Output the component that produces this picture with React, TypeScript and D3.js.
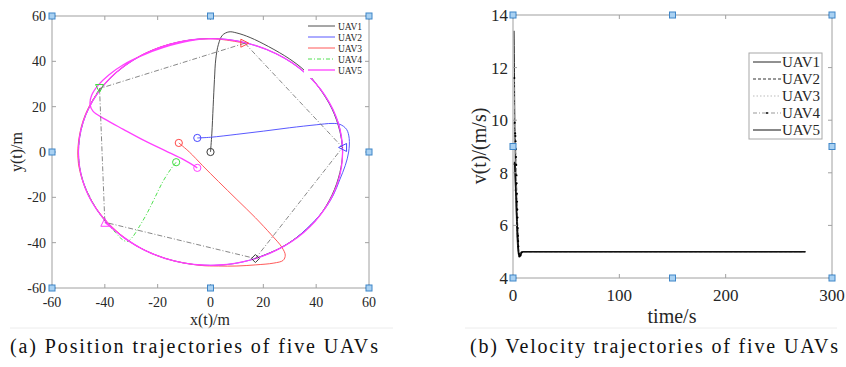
import * as d3 from 'd3';

// ---- (a) position trajectories, [x, y] in metres ----
const uav1Path: [number, number][] = [
  [0, 0], [0.5, 8], [1, 20], [1.5, 32], [2, 41], [3, 47.5], [4.5, 51.5], [7, 53], [10, 52.5],
  [15, 50.5], [22, 46.5], [30, 41], [36, 35.5], [41, 28.5], [46, 19], [49, 9], [50, 0],
  [49, -9], [46, -19], [41, -28.5], [35, -35.5], [27, -42], [17, -47],
];
const uav2Path: [number, number][] = [
  [-5, 6.2], [0, 6.5], [10, 7.8], [20, 9.2], [30, 10.7], [40, 12], [46, 12.6], [49, 12.2],
  [51.5, 10], [52.5, 6], [52.3, 0], [51, -6], [49, -12], [46.5, -19], [43, -25.5], [38, -32],
  [30, -40], [18, -46.6], [5, -49.8], [-10, -49], [-25, -43.3], [-37, -33.7], [-45, -21.7],
  [-49.5, -7], [-49.6, 6], [-46, 19.5], [-38, 32.5], [-26, 42.7], [-12, 48.5], [3, 50],
  [18, 46.6], [31, 39.2], [41.5, 27.9], [48.3, 13], [50, 2],
];
const uav3Path: [number, number][] = [
  [-12, 4], [-8, 0], [-3, -6], [3, -13], [10, -21], [17, -29], [23, -36.5], [27, -42],
  [28.3, -45.5], [27.5, -47.8], [24, -49], [17, -49.8], [10, -50.3], [3, -50.3], [-4, -50],
  [-17, -47], [-29, -40.7], [-39, -31], [-46, -19.5], [-50, -5], [-49.5, 8], [-46, 20],
  [-38.5, 32], [-28, 41.5], [-15, 47.7], [0, 50], [13, 48],
];
const uav4Path: [number, number][] = [
  [-13, -4.5], [-15, -7.5], [-18, -13], [-21, -20], [-24, -27], [-27, -33], [-29.5, -37.5],
  [-31.5, -39.5], [-33.5, -38.5], [-36, -35.5], [-39.5, -31], [-43, -25.5], [-46, -19],
  [-48.3, -13], [-50, 0], [-48.3, 13], [-45.3, 21.2], [-42, 28],
];
const uav5Path: [number, number][] = [
  [-5, -7], [-10, -3.5], [-17, 0.5], [-25, 5], [-33, 10], [-40, 14.5], [-44.5, 18], [-45.6, 21],
  [-45, 25], [-42.5, 29.5], [-38.5, 34], [-33, 38.5], [-26, 42.5], [-18, 46], [-8, 49], [0, 50],
  [13, 48.3], [25, 43.3], [35.4, 35.4], [43.3, 25], [48.3, 13], [50, 0], [48.3, -13],
  [43.3, -25], [35.4, -35.4], [25, -43.3], [13, -48.3], [0, -50], [-13, -48.3], [-25, -43.3],
  [-35.4, -35.4], [-43.3, -25], [-48.3, -13], [-50, 0], [-48.3, 13], [-43.3, 25],
  [-35.4, 35.4], [-25, 43.3], [-13, 48.3], [0, 50], [13, 48.3], [25, 43.3], [35.4, 35.4],
  [43.3, 25], [48.3, 13], [50, 0], [48.3, -13], [43.3, -25], [35.4, -35.4], [25, -43.3],
  [13, -48.3], [0, -50], [-13, -48.3], [-25, -43.3], [-33, -37.5], [-40, -31],
];
const formation: [number, number][] = [[13, 48], [50, 2], [17, -47], [-40, -31], [-42, 28], [13, 48]];

const posNames = ['UAV1', 'UAV2', 'UAV3', 'UAV4', 'UAV5'];
const posColors = ['#3a3a3a', '#4646ff', '#ff4646', '#3cdc3c', '#ff40ff'];
const posPaths = [uav1Path, uav2Path, uav3Path, uav4Path, uav5Path];
const endMarkers = ['diamond', 'left', 'right', 'down', 'up'];
const posTicks = [-60, -40, -20, 0, 20, 40, 60];

// ---- (b) velocity, [t (s), v (m/s)] ----
const vel1: [number, number][] = [
  [1, 13.4], [1.3, 12.2], [1.6, 10.6], [2, 8.9], [2.5, 7.6], [3, 6.6], [3.5, 5.9], [4, 5.4],
  [5, 4.95], [6, 4.82], [7, 4.86], [8, 4.96], [9, 5], [275, 5],
];
const vel2: [number, number][] = [
  [1, 9.9], [2, 9.4], [3, 8], [4, 6.5], [5, 5.3], [6, 4.85], [7, 4.86], [8, 4.97], [10, 5], [275, 5],
];
const vel3: [number, number][] = [
  [1, 7.3], [2, 7.4], [3, 6.5], [4, 5.6], [5, 5.0], [6, 4.85], [8, 4.98], [10, 5], [275, 5],
];
const vel4: [number, number][] = [
  [1.2, 11.6], [1.6, 9.9], [2, 9.5], [2.2, 9.4], [2.4, 9.2], [2.6, 8.9], [2.8, 8.6], [3, 8.3],
  [3.2, 7.9], [3.4, 7.6], [3.6, 7.2], [3.8, 6.9], [4, 6.6], [4.2, 6.3], [4.4, 5.9], [4.6, 5.6],
  [4.8, 5.4], [5, 5.2], [5.5, 4.92], [6, 4.82], [7, 4.86], [8, 4.97], [9, 5], [275, 5],
];
const vel5: [number, number][] = [
  [1, 8.3], [1.5, 8.4], [2, 7.9], [3, 7], [4, 5.9], [5, 5.1], [6, 4.83], [7, 4.86], [8, 4.97],
  [10, 5], [275, 5],
];
const velNames = ['UAV1', 'UAV2', 'UAV3', 'UAV4', 'UAV5'];
const velSeries = [vel1, vel2, vel3, vel4, vel5];
const velStyles = [
  { stroke: '#222', dash: '', width: 1 },
  { stroke: '#333', dash: '3,2', width: 1 },
  { stroke: '#bbb', dash: '1.5,2', width: 1 },
  { stroke: '#999', dash: '4,2,1,2', width: 1 },
  { stroke: '#111', dash: '', width: 1.6 },
];
const timeTicks = [0, 100, 200, 300];
const velTicks = [4, 6, 8, 10, 12, 14];

const FONT = 'Liberation Serif, DejaVu Serif, serif';
const AXIS = '#a0a0a0';
const TXT = '#262626';

function Handle({ x, y }: { x: number; y: number }) {
  return <rect x={x - 3} y={y - 3} width={6} height={6} fill="#a9d1f2" stroke="#3f86c8" strokeWidth={1} />;
}

function marker(kind: string, x: number, y: number, color: string, key: string) {
  const s = 4;
  let pts = '';
  if (kind === 'diamond') pts = `${x},${y - s} ${x + s},${y} ${x},${y + s} ${x - s},${y}`;
  if (kind === 'left') pts = `${x - s},${y} ${x + s},${y - s} ${x + s},${y + s}`;
  if (kind === 'right') pts = `${x + s},${y} ${x - s},${y - s} ${x - s},${y + s}`;
  if (kind === 'up') pts = `${x},${y - s} ${x + s},${y + s} ${x - s},${y + s}`;
  if (kind === 'down') pts = `${x},${y + s} ${x + s},${y - s} ${x - s},${y - s}`;
  return <polygon key={key} points={pts} fill="none" stroke={color} strokeWidth={1} />;
}

function T(props: any) {
  const { size, children, ...rest } = props;
  return (
    <text {...rest} style={{ fontFamily: FONT, fontSize: size }} fill={rest.fill ?? TXT}>
      {children}
    </text>
  );
}

function PositionChart() {
  const x = d3.scaleLinear().domain([-60, 60]).range([52, 369]);
  const y = d3.scaleLinear().domain([-60, 60]).range([288, 16]);
  const line = d3
    .line<[number, number]>()
    .x((d) => x(d[0]))
    .y((d) => y(d[1]))
    .curve(d3.curveCatmullRom.alpha(0.5));
  const straight = d3
    .line<[number, number]>()
    .x((d) => x(d[0]))
    .y((d) => y(d[1]));

  return (
    <g>
      <rect x={52} y={16} width={317} height={272} fill="#fff" />
      {posPaths.map((p, i) => (
        <path
          key={posNames[i]}
          d={line(p) ?? ''}
          fill="none"
          stroke={posColors[i]}
          strokeWidth={i === 4 ? 1.3 : 0.9}
          strokeDasharray={i === 3 ? '4,2,1,2' : undefined}
        />
      ))}
      <path d={straight(formation) ?? ''} fill="none" stroke="#555" strokeWidth={0.7} strokeDasharray="5,2,1,2" />
      {posPaths.map((p, i) => (
        <circle key={'s' + i} cx={x(p[0][0])} cy={y(p[0][1])} r={3.6} fill="none" stroke={posColors[i]} strokeWidth={1} />
      ))}
      {posPaths.map((p, i) => marker(endMarkers[i], x(p[p.length - 1][0]), y(p[p.length - 1][1]), posColors[i], 'e' + i))}

      {/* legend */}
      <rect x={304} y={17} width={63} height={61} fill="#fff" />
      {posNames.map((n, i) => (
        <g key={n}>
          <line
            x1={308}
            x2={335}
            y1={26 + i * 11}
            y2={26 + i * 11}
            stroke={posColors[i]}
            strokeWidth={i === 4 ? 1.3 : 0.9}
            strokeDasharray={i === 3 ? '4,2,1,2' : undefined}
          />
          <T x={338} y={29.5 + i * 11} size={9.5}>
            {n}
          </T>
        </g>
      ))}

      {/* axes box */}
      <rect x={52} y={16} width={317} height={272} fill="none" stroke={AXIS} strokeWidth={1} />
      {posTicks.map((t) => (
        <g key={'x' + t} stroke={AXIS}>
          <line x1={x(t)} x2={x(t)} y1={288} y2={284} />
          <line x1={x(t)} x2={x(t)} y1={16} y2={20} />
          <line x1={52} x2={56} y1={y(t)} y2={y(t)} />
          <line x1={369} x2={365} y1={y(t)} y2={y(t)} />
        </g>
      ))}
      {posTicks.map((t) => (
        <T key={'xl' + t} x={x(t)} y={307} textAnchor="middle" size={14}>
          {t}
        </T>
      ))}
      {posTicks.map((t) => (
        <T key={'yl' + t} x={46} y={y(t) + 5} textAnchor="end" size={14}>
          {t}
        </T>
      ))}
      <T x={210} y={325} textAnchor="middle" size={16}>
        x(t)/m
      </T>
      <T transform="translate(22,152) rotate(-90)" textAnchor="middle" size={16}>
        y(t)/m
      </T>
      {[-60, 0, 60].map((t) => (
        <g key={'h' + t}>
          <Handle x={x(t)} y={16} />
          <Handle x={x(t)} y={288} />
        </g>
      ))}
      <Handle x={52} y={y(0)} />
      <Handle x={369} y={y(0)} />

      <line x1={10} x2={393} y1={328} y2={328} stroke="#ececec" />
      <T x={10} y={353} size={20} fill="#111" textLength={368} lengthAdjust="spacing">
        (a) Position trajectories of five UAVs
      </T>
    </g>
  );
}

function VelocityChart() {
  const x = d3.scaleLinear().domain([0, 300]).range([513, 832]);
  const y = d3.scaleLinear().domain([4, 14]).range([278, 15]);
  const line = d3
    .line<[number, number]>()
    .x((d) => x(d[0]))
    .y((d) => y(d[1]))
    .curve(d3.curveMonotoneX);
  const left = 513;
  const right = 832;
  const top = 15;
  const bottom = 278;

  return (
    <g>
      <rect x={left} y={top} width={right - left} height={bottom - top} fill="#fff" />
      {velSeries.map((s, i) => (
        <path
          key={velNames[i]}
          d={line(s) ?? ''}
          fill="none"
          stroke={velStyles[i].stroke}
          strokeWidth={velStyles[i].width}
          strokeDasharray={velStyles[i].dash || undefined}
        />
      ))}
      {vel4.slice(0, 22).map((d, i) => (
        <circle key={'d' + i} cx={x(d[0])} cy={y(d[1])} r={1.1} fill="#000" />
      ))}

      <rect x={left} y={top} width={right - left} height={bottom - top} fill="none" stroke={AXIS} strokeWidth={1} />
      {timeTicks.map((t) => (
        <g key={'x' + t} stroke={AXIS}>
          <line x1={x(t)} x2={x(t)} y1={bottom} y2={bottom - 4} />
          <line x1={x(t)} x2={x(t)} y1={top} y2={top + 4} />
        </g>
      ))}
      {velTicks.map((t) => (
        <g key={'y' + t} stroke={AXIS}>
          <line x1={left} x2={left + 4} y1={y(t)} y2={y(t)} />
          <line x1={right} x2={right - 4} y1={y(t)} y2={y(t)} />
        </g>
      ))}
      {timeTicks.map((t) => (
        <T key={'xl' + t} x={x(t)} y={301} textAnchor="middle" size={17}>
          {t}
        </T>
      ))}
      {velTicks.map((t) => (
        <T key={'yl' + t} x={508} y={y(t) + 6} textAnchor="end" size={17}>
          {t}
        </T>
      ))}
      <T x={672} y={323} textAnchor="middle" size={20}>
        time/s
      </T>
      <T transform="translate(486,146) rotate(-90)" textAnchor="middle" size={20}>
        v(t)/(m/s)
      </T>

      {/* legend */}
      <rect x={749} y={53} width={73} height={86} fill="#fff" stroke="#a8a8a8" strokeWidth={1} />
      {velNames.map((n, i) => (
        <g key={n}>
          <line
            x1={753}
            x2={781}
            y1={62 + i * 17}
            y2={62 + i * 17}
            stroke={velStyles[i].stroke}
            strokeWidth={1}
            strokeDasharray={velStyles[i].dash || undefined}
          />
          {i === 3 && <circle cx={767} cy={62 + i * 17} r={1} fill="#000" />}
          <T x={782} y={67 + i * 17} size={15}>
            {n}
          </T>
        </g>
      ))}

      {[0, 150, 300].map((t) => (
        <g key={'h' + t}>
          <Handle x={x(t)} y={top} />
          <Handle x={x(t)} y={bottom} />
        </g>
      ))}
      <Handle x={left} y={y(9)} />
      <Handle x={right} y={y(9)} />

      <line x1={465} x2={837} y1={328} y2={328} stroke="#ececec" />
      <T x={470} y={353} size={20} fill="#111" textLength={368} lengthAdjust="spacing">
        (b) Velocity trajectories of five UAVs
      </T>
    </g>
  );
}

export default function App() {
  return (
    <div style={{ position: 'absolute', left: 0, top: 0 }}>
      <svg width={846} height={367} style={{ display: 'block', background: '#fff' }}>
        <PositionChart />
        <VelocityChart />
      </svg>
    </div>
  );
}
